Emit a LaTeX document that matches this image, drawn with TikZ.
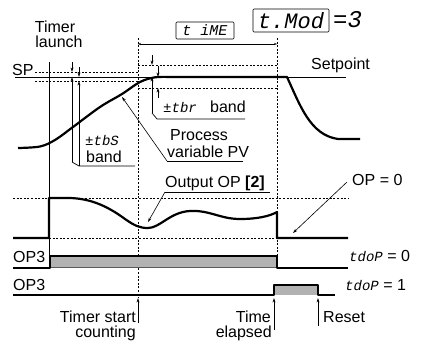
\documentclass[tikz,border=0pt]{standalone}
\usepackage{fontspec}
\setmainfont{Liberation Sans}
\newfontfamily\segfont{Liberation Mono}
\usetikzlibrary{arrows.meta}
\definecolor{pulsegray}{RGB}{178,178,178}
\begin{document}
\begin{tikzpicture}[x=1pt,y=-1pt,
  font=\fontsize{16}{18}\selectfont,
  thinline/.style={line width=0.7pt},
  dline/.style={line width=0.6pt, dash pattern=on 2pt off 1.6pt},
  curve/.style={line width=2.2pt, line join=round},
  lbl/.style={inner sep=0pt, anchor=base west},
  seg/.style={font=\fontsize{14}{16}\segfont\itshape},
  tip/.style={-{Stealth[length=4.5pt,width=2.8pt]}, line width=0.6pt},
  dimtip/.style={{Stealth[length=3pt,width=2.2pt]}-{Stealth[length=3pt,width=2.2pt]}, line width=0.7pt},
  disp/.style={draw, line width=0.6pt, rounded corners=1pt, inner sep=0pt},
]
\path[use as bounding box, fill=white] (0,0) rectangle (423,343);

% ---------- top display labels
\node[disp, minimum width=58pt, minimum height=17pt, font=\fontsize{15}{16}\segfont\itshape] (tm) at (205,30.5) {t iME};
\node[disp, minimum width=76pt, minimum height=23pt, font=\fontsize{22}{24}\segfont\itshape] (tmod) at (291,20.5) {t.Mod};
\node[anchor=west, inner sep=0pt, font=\fontsize{24}{26}\segfont\itshape] (eq3) at (333,20) {=3};

% ---------- reference lines
\draw[thinline] (15,77) -- (346,77);
\draw[dline] (35,72) -- (138,72);
\draw[dline] (35,81) -- (138,81);
\draw[dline] (138,65) -- (277,65);
\draw[dline] (138,88) -- (277,88);
\draw[dline] (138,38) -- (138,298);
\draw[dline] (277,38) -- (277,256);
\draw[dline] (13,198) -- (348,198);
\draw[dline] (49,238) -- (277,238);

% time dimension
\coordinate (d1) at (138,44);
\coordinate (d2) at (277,44);
\draw[dimtip] (d1) -- (d2);

% timer launch line
\coordinate (tlA) at (49,62);
\coordinate (tlB) at (49,256);
\draw[thinline] (tlA) -- (tlB);

% ---------- band markers tbS
\draw[tip] (72,62) -- (72,72);
\draw[tip] (72,162) -- (72,77);
\draw[tip] (79,67) -- (79,77);
\draw[tip] (79,166) -- (79,81);
\draw[thinline] (72,162) -- (79,166) -- (135,166);
% band markers tbr
\draw[tip] (152,55) -- (152,65);
\draw[tip] (152,113) -- (152,77);
\draw[tip] (158,66) -- (158,77);
\draw[tip] (158,98) -- (158,88);
\draw[thinline] (152,113) -- (157,119) -- (245,119);

% ---------- process variable
\draw[curve] plot[smooth, tension=0.55] coordinates {(18,148) (40,146.5) (55,140) (73,127) (100,107) (122,94) (140,82) (155,77.3) (170,77)}
  -- (287,77) .. controls (300,105) and (310,135) .. (338,139) -- (360,139);

% ---------- output
\draw[curve] (13,238) -- (49,238) -- (49,198) -- (68,198)
  .. controls (92,198) and (110,208) .. (125,219)
  .. controls (135,226) and (140,228) .. (148,228)
  .. controls (160,228) and (170,212) .. (190,211)
  .. controls (210,210) and (220,219) .. (240,219)
  .. controls (258,219) and (270,216) .. (277,212)
  -- (277,238) -- (348,238);

% ---------- OP3 rows
\fill[pulsegray] (50,256) rectangle (277,267);
\draw[line width=0.7pt, gray!70!black] (50,267) -- (277,267);
\draw[curve, line width=2pt] (13,268) -- (50,268) -- (50,256) -- (277,256) -- (277,268) -- (348,268);
\fill[pulsegray] (274,285) rectangle (318,295);
\draw[curve, line width=2pt] (13,295) -- (274,295) -- (274,285) -- (318,285) -- (318,295) -- (335,295);

% ---------- labels
\node[inner sep=0pt, anchor=base] (tl1) at (55,32) {Timer};
\node[inner sep=0pt, anchor=base] (tl2) at (59,47) {launch};
\node[lbl] (sp) at (12,75) {SP};
\node[lbl] (setp) at (311,69) {Setpoint};
\node[lbl, seg] (tbs) at (85,145) {±tbS};
\node[lbl] (tbsb) at (86,162) {band};
\node[lbl, seg] (tbr) at (163,112) {±tbr};
\node[lbl] (tbrb) at (210,112) {band};
\node[lbl] (pv1) at (170,140) {Process};
\node[lbl] (pv2) at (167,157) {variable PV};
\node[lbl] (opl) at (165,187) {Output OP \textbf{[2]}};
\node[lbl] (op0) at (352,185) {OP = 0};
\node[lbl] (op3a) at (13,262) {OP3};
\node[lbl] (op3b) at (13,290) {OP3};
\node[lbl] (td0) at (349,261) {{\segfont\itshape\fontsize{14}{16}\selectfont tdoP} = 0};
\node[lbl] (td1) at (345,290) {{\segfont\itshape\fontsize{14}{16}\selectfont tdoP} = 1};
\node[inner sep=0pt, anchor=base east] (ts1) at (136,322) {Timer start};
\node[inner sep=0pt, anchor=base east] (ts2) at (136,337) {counting};
\node[inner sep=0pt, anchor=base east] (te1) at (271,322) {Time};
\node[inner sep=0pt, anchor=base east] (te2) at (272,337) {elapsed};
\node[lbl] (rs) at (323,322) {Reset};

% ---------- leaders
\coordinate (pvu) at (167,161);
\coordinate (pvt) at (122,97);
\draw[thinline] (pvu) -- (243,161);
\draw[tip] (pvu) -- (pvt);
\coordinate (opu) at (165,192);
\coordinate (opt) at (148,222);
\draw[thinline] (opu) -- (270,192);
\draw[tip] (opu) -- (opt);
\coordinate (op0s) at (347,182);
\coordinate (op0t) at (293,233);
\draw[tip] (op0s) -- (op0t);

% ---------- bottom event arrows
\coordinate (a1s) at (138,323); \coordinate (a1t) at (138,298);
\coordinate (a2s) at (274,330); \coordinate (a2t) at (274,298);
\coordinate (a3s) at (318,326); \coordinate (a3t) at (318,298);
\draw[tip] (a1s) -- (a1t);
\draw[tip] (a2s) -- (a2t);
\draw[tip] (a3s) -- (a3t);
\end{tikzpicture}
\end{document}
